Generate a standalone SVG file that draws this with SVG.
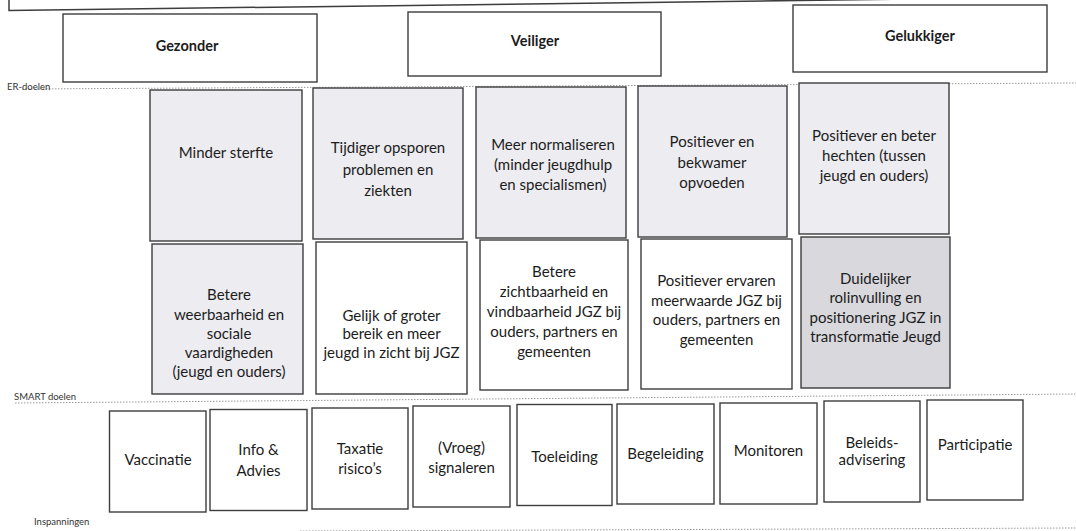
<svg xmlns="http://www.w3.org/2000/svg" width="1076" height="531" viewBox="0 0 1076 531">
<style>
  .bx{stroke:#3d3d3d;stroke-width:1.4;fill:#ffffff}
  .g1{fill:#ececf1}
  .g2{fill:#d8d8dd}
  .t{font-family:Lato,"Liberation Sans",sans-serif;font-size:15px;fill:#1c1c1c;text-anchor:middle;dominant-baseline:central}
  .h{font-family:Lato,"Liberation Sans",sans-serif;font-size:14.5px;font-weight:bold;fill:#1c1c1c;text-anchor:middle;dominant-baseline:central}
  .lb{font-family:Lato,"Liberation Sans",sans-serif;font-size:9.5px;fill:#333;dominant-baseline:central}
  .sep{stroke:#9a9a9a;stroke-width:1;stroke-dasharray:1.5 1.5;fill:none}
</style>
<rect width="1076" height="531" fill="#ffffff"/>
<g id="top-box"><path d="M9,-6 L9,10.5 L1070,-3" fill="none" stroke="#3d3d3d" stroke-width="1.5"/></g>
<g id="separators">
  <line class="sep" x1="22" y1="89" x2="1076" y2="83"/>
  <line class="sep" x1="15" y1="403" x2="1076" y2="394"/>
  <line class="sep" x1="300" y1="531" x2="1076" y2="528"/>
</g>
<g id="labels">
  <text class="lb" x="7" y="86">ER-doelen</text>
  <text class="lb" x="14" y="396">SMART doelen</text>
  <text class="lb" x="34" y="521">Inspanningen</text>
</g>
<g id="connectors"></g>
<g id="er-gezonder"><rect class="bx" x="63" y="14" width="254" height="68"/><text class="h" x="187" y="45">Gezonder</text></g>
<g id="er-veiliger"><rect class="bx" x="408" y="12" width="253" height="64"/><text class="h" x="535" y="40">Veiliger</text></g>
<g id="er-gelukkiger"><rect class="bx" x="793" y="5" width="254" height="67"/><text class="h" x="920" y="35">Gelukkiger</text></g>

<g id="r1-1"><rect class="bx g1" x="150" y="90" width="152" height="151"/><text class="t" x="226" y="152">Minder sterfte</text></g>
<g id="r1-2"><rect class="bx g1" x="313" y="88" width="150" height="151"/><text class="t" x="388"><tspan x="388" y="147">Tijdiger opsporen</tspan><tspan x="388" y="168.5">problemen en</tspan><tspan x="388" y="190">ziekten</tspan></text></g>
<g id="r1-3"><rect class="bx g1" x="476" y="87" width="150" height="151"/><text class="t"><tspan x="553" y="144">Meer normaliseren</tspan><tspan x="553" y="164">(minder jeugdhulp</tspan><tspan x="553" y="184">en specialismen)</tspan></text></g>
<g id="r1-4"><rect class="bx g1" x="638" y="86" width="149" height="151"/><text class="t"><tspan x="712" y="141">Positiever en</tspan><tspan x="712" y="161.5">bekwamer</tspan><tspan x="712" y="182">opvoeden</tspan></text></g>
<g id="r1-5"><rect class="bx g1" x="799" y="83" width="150" height="151"/><text class="t"><tspan x="874" y="135">Positiever en beter</tspan><tspan x="874" y="155">hechten (tussen</tspan><tspan x="874" y="175">jeugd en ouders)</tspan></text></g>

<g id="r2-1"><rect class="bx g1" x="152" y="244" width="151" height="150"/><text class="t"><tspan x="229" y="294">Betere</tspan><tspan x="229" y="313.5">weerbaarheid en</tspan><tspan x="229" y="332.5">sociale</tspan><tspan x="229" y="351.5">vaardigheden</tspan><tspan x="229" y="371">(jeugd en ouders)</tspan></text></g>
<g id="r2-2"><rect class="bx" x="316" y="242" width="151" height="152"/><text class="t"><tspan x="391.5" y="314.5">Gelijk of groter</tspan><tspan x="391.5" y="333">bereik en meer</tspan><tspan x="391.5" y="351.5">jeugd in zicht bij JGZ</tspan></text></g>
<g id="r2-3"><rect class="bx" x="480" y="240" width="148" height="150"/><text class="t"><tspan x="554" y="271">Betere</tspan><tspan x="554" y="291">zichtbaarheid en</tspan><tspan x="554" y="311">vindbaarheid JGZ bij</tspan><tspan x="554" y="331">ouders, partners en</tspan><tspan x="554" y="351">gemeenten</tspan></text></g>
<g id="r2-4"><rect class="bx" x="641" y="239" width="151" height="150"/><text class="t"><tspan x="716.5" y="280">Positiever ervaren</tspan><tspan x="716.5" y="299.5">meerwaarde JGZ bij</tspan><tspan x="716.5" y="319">ouders, partners en</tspan><tspan x="716.5" y="338.5">gemeenten</tspan></text></g>
<g id="r2-5"><rect class="bx g2" x="801" y="237" width="149" height="151"/><text class="t"><tspan x="875.5" y="278">Duidelijker</tspan><tspan x="875.5" y="297">rolinvulling en</tspan><tspan x="875.5" y="316.5">positionering JGZ in</tspan><tspan x="875.5" y="336">transformatie Jeugd</tspan></text></g>

<g id="i-vaccinatie"><rect class="bx" x="109.5" y="411" width="96.5" height="101"/><text class="t" x="158" y="459">Vaccinatie</text></g>
<g id="i-info"><rect class="bx" x="210" y="409.5" width="97" height="101"/><text class="t"><tspan x="258.5" y="449">Info &amp;</tspan><tspan x="258.5" y="470">Advies</tspan></text></g>
<g id="i-taxatie"><rect class="bx" x="312" y="408" width="96" height="101"/><text class="t"><tspan x="360" y="448">Taxatie</tspan><tspan x="360" y="467.5">risico’s</tspan></text></g>
<g id="i-vroeg"><rect class="bx" x="413" y="406" width="97" height="101"/><text class="t"><tspan x="461.5" y="447">(Vroeg)</tspan><tspan x="461.5" y="466.5">signaleren</tspan></text></g>
<g id="i-toeleiding"><rect class="bx" x="517" y="404.5" width="95" height="101"/><text class="t" x="564.5" y="455.5">Toeleiding</text></g>
<g id="i-begeleiding"><rect class="bx" x="617" y="404" width="97" height="100"/><text class="t" x="665.5" y="452.5">Begeleiding</text></g>
<g id="i-monitoren"><rect class="bx" x="720" y="403" width="97" height="101"/><text class="t" x="768.5" y="450">Monitoren</text></g>
<g id="i-beleids"><rect class="bx" x="824" y="401" width="96" height="101"/><text class="t"><tspan x="872" y="441.5">Beleids-</tspan><tspan x="872" y="459">advisering</tspan></text></g>
<g id="i-participatie"><rect class="bx" x="927" y="400" width="96" height="100"/><text class="t" x="975" y="443.5">Participatie</text></g>
</svg>
